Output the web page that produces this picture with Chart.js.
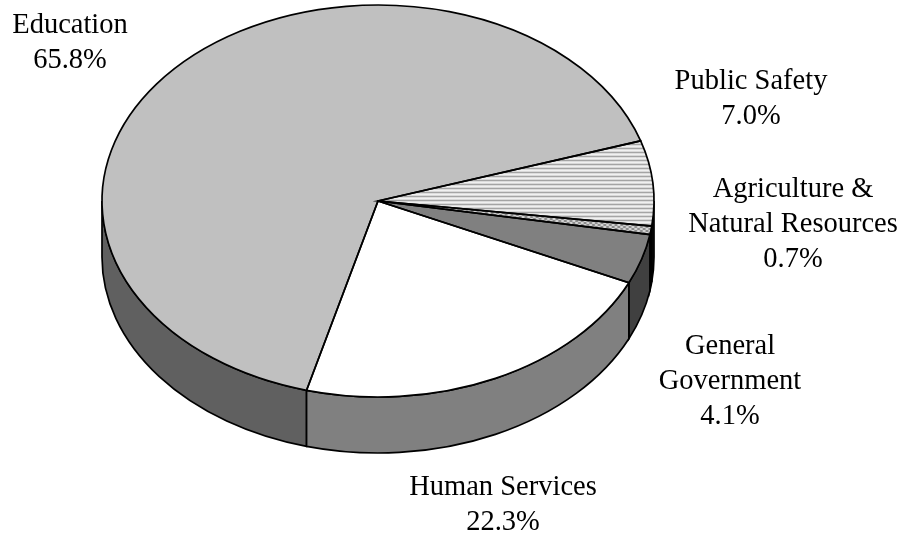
<!DOCTYPE html>
<html><head><meta charset="utf-8">
<style>html,body{margin:0;padding:0;background:#fff}canvas{display:block}</style>
<script src="https://cdn.jsdelivr.net/npm/chart.js@4"></script>
</head><body><canvas id="c" width="905" height="538"></canvas>
<script>
const categories = ["Education","Public Safety","Agriculture & Natural Resources","General Government","Human Services"];
const values = [65.8,7.0,0.7,4.1,22.3];
const labelLines = [["Education","65.8%"],["Public Safety","7.0%"],["Agriculture &","Natural Resources","0.7%"],["General","Government","4.1%"],["Human Services","22.3%"]];
const labelAnchors = [[70,43],[751,99],[793,225],[730,382],[503,505]];
const topColors = ["#c0c0c0","hatch","dots","#808080","#ffffff"];
const rimColors = ["#606060","#202020","#101010","#404040","#808080"];

const ASPECT = 276/196, DEPTH = 56, FONT = '28.5px "Liberation Serif"', LH = 35, LINE = 1.7;
function hatch(){const p=document.createElement('canvas');p.width=4;p.height=4;const x=p.getContext('2d');
  ['#a4a4a4','#dcdcdc','#f0f0f0','#d8d8d8'].forEach((c,i)=>{x.fillStyle=c;x.fillRect(0,i,4,1);});
  return x.createPattern(p,'repeat');}
function dots(){const p=document.createElement('canvas');p.width=4;p.height=4;const x=p.getContext('2d');
  x.fillStyle='#8c8c8c';x.fillRect(0,0,4,4);x.fillStyle='#d4d4d4';x.fillRect(0,0,2,2);x.fillRect(2,2,2,2);return x.createPattern(p,'repeat');}
const fills = topColors.map(c=>c==='hatch'?hatch():c==='dots'?dots():c);

let R=196; const rx=()=>R*ASPECT, ry=()=>R;

const pie3d = {
  id:'pie3d',
  beforeDatasetsDraw(chart){
    const ctx=chart.ctx, arcs=chart.getDatasetMeta(0).data, a0=arcs[0];
    const cx=a0.x, cy=a0.y; R=a0.outerRadius;
    const T=2*Math.PI;
    arcs.forEach((arc,i)=>{
      const out=[];
      for(const k of [-1,0,1]){
        const s=Math.max(arc.startAngle,k*T), e=Math.min(arc.endAngle,k*T+Math.PI);
        if(e>s) out.push([s,e]);
      }
      out.forEach(([s,e])=>{
        ctx.beginPath();
        ctx.ellipse(cx,cy,rx(),ry(),0,s,e);
        ctx.ellipse(cx,cy+DEPTH,rx(),ry(),0,e,s,true);
        ctx.closePath();
        ctx.fillStyle=rimColors[i];ctx.fill();
        ctx.strokeStyle='#000';ctx.lineWidth=LINE;ctx.stroke();
      });
    });
    ctx.save();
    ctx.translate(cx,cy);ctx.scale(ASPECT,1);ctx.translate(-cx,-cy);
  },
  afterDatasetsDraw(chart){
    const ctx=chart.ctx, arcs=chart.getDatasetMeta(0).data;
    ctx.restore();
    arcs.forEach(arc=>{
      ctx.beginPath();ctx.moveTo(arc.x,arc.y);
      ctx.ellipse(arc.x,arc.y,rx(),ry(),0,arc.startAngle,arc.endAngle);
      ctx.closePath();
      ctx.strokeStyle='#000';ctx.lineWidth=LINE;ctx.stroke();
    });
    ctx.fillStyle='#000';ctx.font=FONT;ctx.textAlign='center';ctx.textBaseline='middle';
    labelLines.forEach((lines,i)=>{
      lines.forEach((t,j)=>ctx.fillText(t,labelAnchors[i][0],labelAnchors[i][1]+j*LH-(lines.length-1)*LH/2));
    });
  }
};
new Chart(document.getElementById('c'),{
  type:'pie',
  data:{labels:categories,datasets:[{data:values,backgroundColor:fills,borderWidth:0}]},
  options:{responsive:false,animation:false,rotation:195,
    layout:{padding:{left:182,right:331,top:5,bottom:141}},
    plugins:{legend:{display:false},tooltip:{enabled:false}}},
  plugins:[pie3d]
});
</script></body></html>
